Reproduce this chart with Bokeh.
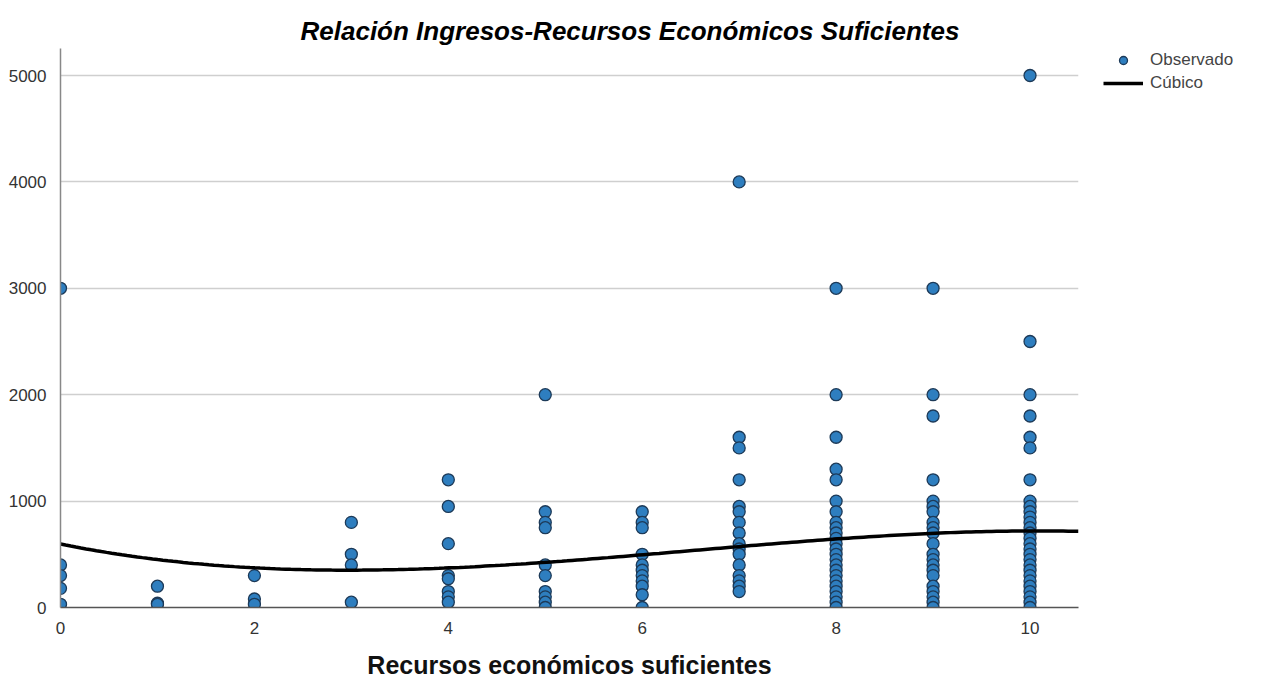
import numpy as np
from bokeh.plotting import figure
from bokeh.models import Range1d, FixedTicker, Legend, LegendItem, Title
from bokeh.embed import file_html
from bokeh.resources import INLINE

# Observed values (Ingresos) per level of "Recursos económicos suficientes"
recursos_niveles = [0, 1, 2, 3, 4, 5, 6, 7, 8, 9, 10]
ingresos_0 = [3000, 400, 300, 180, 30]
ingresos_1 = [200, 40, 30]
ingresos_2 = [300, 80, 30]
ingresos_3 = [800, 500, 400, 50]
ingresos_4 = [1200, 950, 600, 300, 270, 150, 100, 50]
ingresos_5 = [2000, 900, 800, 750, 400, 300, 150, 100, 50, 0]
ingresos_6 = [900, 800, 750, 500, 400, 350, 300, 250, 200, 120, 0]
ingresos_7 = [4000, 1600, 1500, 1200, 950, 900, 800, 700, 600, 550, 500, 400, 300, 250, 200, 150]
ingresos_8 = [3000, 2000, 1600, 1300, 1200, 1000, 900, 800, 750, 700, 650, 600, 550, 500,
              450, 400, 350, 300, 250, 200, 150, 100, 50, 0]
ingresos_9 = [3000, 2000, 1800, 1200, 1000, 950, 900, 800, 750, 700, 600, 500, 450, 400,
              350, 300, 200, 150, 100, 50, 0]
ingresos_10 = [5000, 2500, 2000, 1800, 1600, 1500, 1200, 1000, 950, 900, 850, 800, 750, 700,
               650, 600, 550, 500, 450, 400, 350, 300, 250, 200, 150, 100, 50, 0]

# Cubic fit curve
curva_x = [0, 1, 2, 3, 4, 5, 6, 7, 8, 9, 10, 10.5]
curva_y = [584, 470, 377, 350, 360, 417, 495, 584, 647, 694, 719, 715]

x_ticks = [0, 2, 4, 6, 8, 10]
y_ticks = [0, 1000, 2000, 3000, 4000, 5000]

grupos = [ingresos_0, ingresos_1, ingresos_2, ingresos_3, ingresos_4, ingresos_5,
          ingresos_6, ingresos_7, ingresos_8, ingresos_9, ingresos_10]
xs, ys = [], []
for nivel, vals in zip(recursos_niveles, grupos):
    xs += [nivel] * len(vals)
    ys += vals

coef = np.polyfit(curva_x, curva_y, 3)
cx = np.linspace(0, 10.5, 200)
cy = np.polyval(coef, cx)

FONT = "Liberation Sans"

p = figure(frame_width=1018, frame_height=559, x_range=Range1d(0, 10.5), y_range=Range1d(0, 5254),
           output_backend="svg", toolbar_location=None,
           min_border_left=60, min_border_right=180, min_border_top=48, min_border_bottom=10)
p.outline_line_color = None
p.background_fill_color = "white"

title = Title(text="Relación Ingresos-Recursos Económicos Suficientes", text_font=FONT,
              text_font_style="bold italic", text_font_size="26px", align="left",
              offset=240, text_color="black", standoff=6)
p.add_layout(title, "above")

p.xaxis.axis_label = "Recursos económicos suficientes"
p.xaxis.axis_label_text_font = FONT
p.xaxis.axis_label_text_font_style = "bold"
p.xaxis.axis_label_text_font_size = "25px"
p.xaxis.axis_label_text_color = "#111111"
p.xaxis.axis_label_standoff = 14

p.xgrid.visible = False
p.ygrid.ticker = FixedTicker(ticks=y_ticks)
p.ygrid.grid_line_color = "#cfcfcf"
p.ygrid.grid_line_width = 1.5

p.xaxis.ticker = FixedTicker(ticks=x_ticks)
p.yaxis.ticker = FixedTicker(ticks=y_ticks)
for ax in (p.xaxis[0], p.yaxis[0]):
    ax.major_tick_line_color = None
    ax.minor_tick_line_color = None
    ax.major_label_text_font = FONT
    ax.major_label_text_font_size = "17px"
    ax.major_label_text_color = "#333333"
p.xaxis.axis_line_color = "#555555"
p.xaxis.axis_line_width = 1.5
p.yaxis.axis_line_color = "#888888"
p.yaxis.axis_line_width = 1.5
p.xaxis.major_label_standoff = 8
p.yaxis.major_label_standoff = 8

r_obs = p.scatter(xs, ys, size=12, fill_color="#2e7ebf", line_color="#1d3a58", line_width=1.3)
r_cub = p.line(cx, cy, line_color="black", line_width=3.5)

legend = Legend(items=[LegendItem(label="Observado", renderers=[r_obs]),
                       LegendItem(label="Cúbico", renderers=[r_cub])],
                location=(25, 514), border_line_color=None, background_fill_alpha=0,
                label_text_font=FONT, label_text_font_size="17px", label_text_color="#444444",
                glyph_width=40, glyph_height=20, label_standoff=7, spacing=3, padding=0, margin=0,
                label_height=20)
p.add_layout(legend, "right")

open("out.html", "w").write(file_html(p, INLINE))
